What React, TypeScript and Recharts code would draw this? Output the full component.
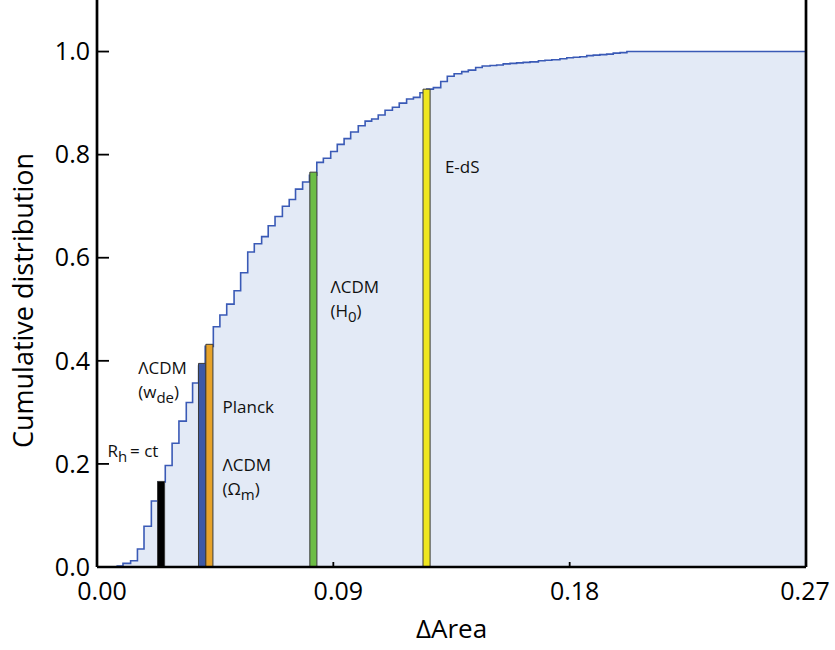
import React from 'react';
import { ComposedChart, Area, XAxis, YAxis, ReferenceArea, ReferenceLine, ReferenceDot } from 'recharts';

// Cumulative distribution (step positions in ΔArea and CDF level after each step)
const cdfX = [
  0.0074, 0.0099, 0.0128, 0.0154, 0.0179, 0.0207, 0.0232, 0.026, 0.0286, 0.0312,
  0.034, 0.0364, 0.0387, 0.0412, 0.0443, 0.0468, 0.0494, 0.0522, 0.0547, 0.0574,
  0.0599, 0.0627, 0.0652, 0.0678, 0.0706, 0.0732, 0.0756, 0.0783, 0.0809, 0.0837,
  0.0862, 0.089, 0.0915, 0.0941, 0.0966, 0.0995, 0.1021, 0.1046, 0.1071, 0.1097,
  0.1125, 0.1151, 0.1179, 0.1205, 0.123, 0.1256, 0.1281, 0.1309, 0.1334, 0.136,
  0.1389, 0.1414, 0.1442, 0.1467, 0.1497, 0.1522, 0.1547, 0.1573, 0.1598, 0.1623,
  0.1649, 0.1681, 0.1706, 0.1732, 0.1763, 0.1789, 0.1814, 0.1839, 0.1865, 0.189,
  0.1915, 0.1941, 0.1966, 0.1992, 0.2018, 0.27,
];
const cdfY = [
  0.002, 0.007, 0.012, 0.035, 0.079, 0.128, 0.165, 0.197, 0.24, 0.283,
  0.319, 0.357, 0.39, 0.428, 0.466, 0.489, 0.51, 0.536, 0.571, 0.611,
  0.627, 0.641, 0.662, 0.68, 0.7, 0.713, 0.733, 0.747, 0.76, 0.785,
  0.793, 0.806, 0.82, 0.831, 0.844, 0.856, 0.865, 0.869, 0.877, 0.886,
  0.892, 0.9, 0.908, 0.911, 0.92, 0.927, 0.93, 0.942, 0.952, 0.957,
  0.961, 0.964, 0.969, 0.972, 0.973, 0.974, 0.976, 0.977, 0.978, 0.979,
  0.98, 0.982, 0.983, 0.984, 0.986, 0.988, 0.989, 0.99, 0.992, 0.993,
  0.994, 0.995, 0.997, 0.998, 1.0, 1.0,
];

// Model markers
const markerNames = ['Rh=ct', 'LCDM(wde)', 'Planck', 'LCDM(H0)', 'E-dS'];
const markerX = [0.0244, 0.04, 0.0428, 0.0824, 0.1255];
const markerTop = [0.166, 0.395, 0.432, 0.766, 0.927];

// Axis ticks
const xTicks = [0, 0.09, 0.18, 0.27];
const yTicks = [0, 0.2, 0.4, 0.6, 0.8, 1.0];

// Annotation anchors (data coords: left edge, first-line baseline)
const annoX = [0.004, 0.0157, 0.0478, 0.0478, 0.0889, 0.1325];
const annoY = [0.2136, 0.3742, 0.299, 0.1858, 0.532, 0.765];

type Seg = { t: string; sub?: boolean };
const annoLines: Seg[][][] = [
  [[{ t: 'R' }, { t: 'h', sub: true }, { t: '\u2009= ct' }]],
  [[{ t: 'ΛCDM' }], [{ t: '(w' }, { t: 'de', sub: true }, { t: ')' }]],
  [[{ t: 'Planck' }]],
  [[{ t: 'ΛCDM' }], [{ t: '(Ω' }, { t: 'm', sub: true }, { t: ')' }]],
  [[{ t: 'ΛCDM' }], [{ t: '(H' }, { t: '0', sub: true }, { t: ')' }]],
  [[{ t: 'E-dS' }]],
];

// Styles
const markerColors = ['#000000', '#3d59a6', '#e7a32a', '#6cbd45', '#efe61e'];
const BAR_W = 0.0027;
const FONT = '"Open Sans", "Noto Sans", sans-serif';

const cdfData = cdfX.map((x, i) => ({ x, c: cdfY[i] }));

const XTick = (props: any) => {
  const { x, y, payload } = props;
  const last = payload.value === 0.27;
  return (
    <g>
      <line x1={x} x2={x} y1={y} y2={y - 5} stroke="#000" strokeWidth={1.8} />
      <text x={x + (last ? -1 : 5)} y={y + 33} textAnchor="middle" fontSize={25} fill="#000" fontFamily={FONT}>
        {Number(payload.value).toFixed(2)}
      </text>
    </g>
  );
};

const YTick = (props: any) => {
  const { x, y, payload } = props;
  return (
    <g>
      <line x1={x} x2={x + 12} y1={y} y2={y} stroke="#000" strokeWidth={1.8} />
      <text x={x - 7} y={y} dy="0.35em" textAnchor="end" fontSize={25} fill="#000" fontFamily={FONT}>
        {Number(payload.value).toFixed(1)}
      </text>
    </g>
  );
};

const renderLine = (segs: Seg[]) => {
  const out: React.ReactNode[] = [];
  let shifted = false;
  segs.forEach((s, i) => {
    let dy = 0;
    if (s.sub && !shifted) { dy = 5; shifted = true; }
    else if (!s.sub && shifted) { dy = -5; shifted = false; }
    out.push(
      <tspan key={i} dy={dy} fontSize={s.sub ? 15 : 17}>{s.t}</tspan>
    );
  });
  return out;
};

const makeAnno = (lines: Seg[][]) => (p: any) => {
  const vb = p.viewBox || {};
  const x = vb.x;
  const y = vb.y;
  return (
    <g>
      {lines.map((segs, li) => (
        <text key={li} x={x} y={y + li * 24} fontSize={17} fill="#111" fontFamily={FONT}>
          {renderLine(segs)}
        </text>
      ))}
    </g>
  );
};

const YTitle = (p: any) => {
  const vb = p.viewBox || { x: 0, y: 0, width: 97, height: 567 };
  const cx = 33;
  const cy = vb.y + vb.height / 2 + 17;
  return (
    <text x={cx} y={cy} transform={`rotate(-90 ${cx} ${cy})`} textAnchor="middle" fontSize={27} fill="#000" fontFamily={FONT}>
      Cumulative distribution
    </text>
  );
};

export default function App() {
  return (
    <div style={{ position: 'absolute', left: 0, top: 0, width: 835, height: 650, background: '#fff' }}>
      <ComposedChart
        width={835}
        height={650}
        data={cdfData}
        margin={{ top: 0, right: 29, bottom: 0, left: 0 }}
        style={{ fontFamily: FONT }}
      >
        <Area
          type="stepAfter"
          dataKey="c"
          stroke="#3a5ab6"
          strokeWidth={1.6}
          fill="#e3eaf6"
          fillOpacity={1}
          dot={false}
          activeDot={false}
          isAnimationActive={false}
        />
        {markerX.map((mx, i) => (
          <ReferenceArea
            key={markerNames[i]}
            x1={mx - BAR_W / 2}
            x2={mx + BAR_W / 2}
            y1={0}
            y2={markerTop[i]}
            fill={markerColors[i]}
            fillOpacity={1}
            stroke="#3a3a3a"
            strokeWidth={1}
            ifOverflow="visible"
          />
        ))}
        {annoX.map((ax, i) => (
          <ReferenceDot
            key={'a' + i}
            x={ax}
            y={annoY[i]}
            r={0}
            fill="none"
            stroke="none"
            ifOverflow="visible"
            label={{ content: makeAnno(annoLines[i]) }}
          />
        ))}
        <ReferenceLine x={0.27} stroke="#000" strokeWidth={2.7} ifOverflow="visible" />
        <XAxis
          dataKey="x"
          type="number"
          domain={[0, 0.27]}
          ticks={xTicks}
          allowDataOverflow
          height={83}
          tickLine={false}
          tickSize={0}
          tickMargin={0}
          axisLine={{ stroke: '#000', strokeWidth: 2.7 }}
          tick={(p: any) => <XTick {...p} />}
          interval={0}
          label={{ value: 'ΔArea', position: 'insideBottom', offset: 12, fontSize: 26, fill: '#000', fontFamily: FONT }}
        />
        <YAxis
          type="number"
          domain={[0, 1.1]}
          ticks={yTicks}
          allowDataOverflow
          width={97}
          tickLine={false}
          tickSize={0}
          tickMargin={0}
          axisLine={{ stroke: '#000', strokeWidth: 2.7 }}
          tick={(p: any) => <YTick {...p} />}
          interval={0}
          label={{ content: (p: any) => <YTitle {...p} /> }}
        />
      </ComposedChart>
    </div>
  );
}
